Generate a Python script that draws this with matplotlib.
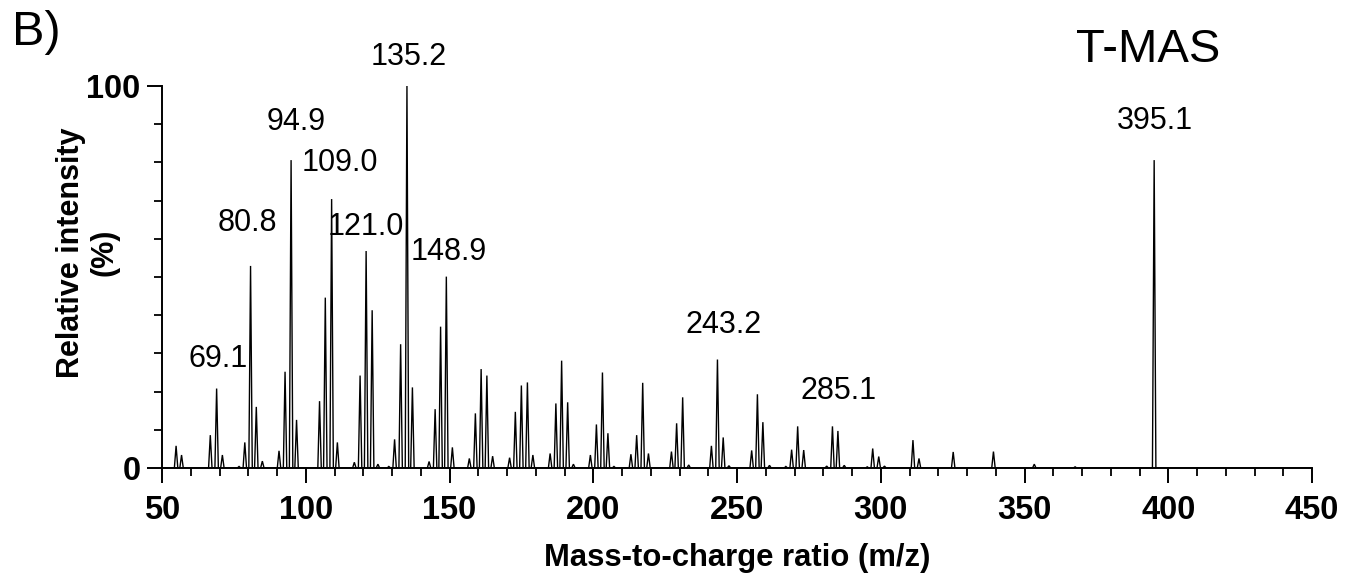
import matplotlib
matplotlib.use("Agg")
import matplotlib.pyplot as plt
from matplotlib.ticker import MultipleLocator, FixedLocator
import numpy as np

plt.rcParams['font.family'] = ['Liberation Sans', 'DejaVu Sans']

# ---- data ----
peak_mz = [54.9, 56.8, 66.8, 69.0, 71.0, 76.8, 78.8, 80.8, 82.8, 84.9,
           90.7, 92.8, 94.9, 96.8, 104.8, 106.8, 109.0, 111.0, 116.9, 118.9,
           121.0, 123.1, 125.1, 128.9, 130.9, 133.0, 135.2, 137.1, 142.9, 145.0,
           146.9, 148.9, 151.0, 156.9, 159.0, 161.0, 163.0, 165.0, 170.9, 172.9,
           175.0, 177.1, 179.0, 185.0, 187.0, 189.0, 191.1, 193.1, 199.0, 201.1,
           203.2, 205.1, 207.2, 213.1, 215.1, 217.2, 219.2, 227.2, 229.0, 231.1,
           233.2, 241.1, 243.2, 245.2, 247.2, 255.1, 257.1, 259.0, 261.3, 267.0,
           269.0, 271.1, 273.2, 281.2, 283.2, 285.1, 287.3, 295.3, 297.2, 299.3,
           301.3, 311.2, 313.3, 325.2, 339.2, 353.4, 367.6, 395.1]
peak_int = [5.8, 3.4, 8.6, 20.8, 3.4, 0.4, 6.7, 52.9, 16.0, 1.8,
            4.5, 25.2, 80.6, 12.6, 17.5, 44.6, 70.4, 6.7, 1.5, 24.2,
            56.8, 41.3, 1.0, 0.4, 7.5, 32.4, 100.0, 21.1, 1.7, 15.4,
            37.0, 50.1, 5.4, 2.5, 14.3, 25.9, 24.2, 3.1, 2.7, 14.7,
            21.6, 22.4, 3.4, 3.8, 16.9, 28.1, 17.2, 1.0, 3.4, 11.4,
            25.0, 9.1, 0.4, 3.6, 8.6, 22.3, 3.8, 4.3, 11.7, 18.5,
            0.8, 5.8, 28.4, 8.0, 0.6, 4.6, 19.3, 12.0, 0.7, 0.4,
            4.8, 10.9, 4.7, 0.5, 10.9, 9.7, 0.7, 0.3, 5.1, 3.0,
            0.5, 7.3, 2.5, 4.2, 4.3, 1.0, 0.3, 80.6]

label_text = ["69.1", "80.8", "94.9", "109.0", "121.0", "135.2", "148.9",
              "243.2", "285.1", "395.1"]
label_x = [69.4, 79.7, 96.6, 111.9, 121.0, 135.9, 149.8, 245.4, 285.2, 395.4]
label_y = [28.6, 64.1, 90.7, 79.8, 63.1, 107.6, 56.6, 37.5, 20.1, 90.8]

x_ticks = [50, 100, 150, 200, 250, 300, 350, 400, 450]
y_ticks = [0, 100]

# ---- figure ----
W, H = 1346, 577
fig = plt.figure(figsize=(W / 100, H / 100), dpi=100)
ax = fig.add_axes([162 / W, 1 - 468 / H, (1312 - 162) / W, (468 - 86) / H])

# build peak profile (narrow triangular peaks on a zero baseline)
hw = 0.6
xs, ys = [50.0], [0.0]
for m, h in zip(peak_mz, peak_int):
    xs += [m - hw, m, m + hw]
    ys += [0.0, h, 0.0]
xs.append(450.0)
ys.append(0.0)
ax.plot(xs, ys, color='black', lw=1.0, solid_joinstyle='miter')

ax.set_xlim(50, 450)
ax.set_ylim(0, 100)

for s in ['top', 'right']:
    ax.spines[s].set_visible(False)
for s in ['left', 'bottom']:
    ax.spines[s].set_linewidth(1.4)

ax.xaxis.set_major_locator(FixedLocator(x_ticks))
ax.xaxis.set_minor_locator(MultipleLocator(10))
ax.yaxis.set_major_locator(FixedLocator(y_ticks))
ax.yaxis.set_minor_locator(MultipleLocator(10))
ax.tick_params(axis='both', which='major', length=10.5, width=1.4,
               labelsize=23.5, direction='out')
ax.tick_params(axis='x', which='major', pad=9)
ax.tick_params(axis='y', which='major', pad=5)
ax.tick_params(axis='both', which='minor', length=5.5, width=1.3, direction='out')
for lab in ax.get_xticklabels() + ax.get_yticklabels():
    lab.set_fontweight('bold')

ax.set_xlabel('Mass-to-charge ratio (m/z)', fontsize=22.3, fontweight='bold',
              labelpad=12)

fig.text(88 / W, 1 - 252.5 / H, 'Relative intensity\n(%)', rotation=90,
         ha='center', va='center', multialignment='center',
         fontsize=22, fontweight='bold', linespacing=1.15)

for t, x, y in zip(label_text, label_x, label_y):
    ax.text(x, y, t, fontsize=22, ha='center', va='center', clip_on=False)

fig.text(1148 / W, 1 - 49.5 / H, 'T-MAS', fontsize=34, ha='center', va='center')
fig.text(12 / W, 1 - 45 / H, 'B)', fontsize=35, ha='left', va='baseline')

fig.savefig('out.png', dpi=100)
